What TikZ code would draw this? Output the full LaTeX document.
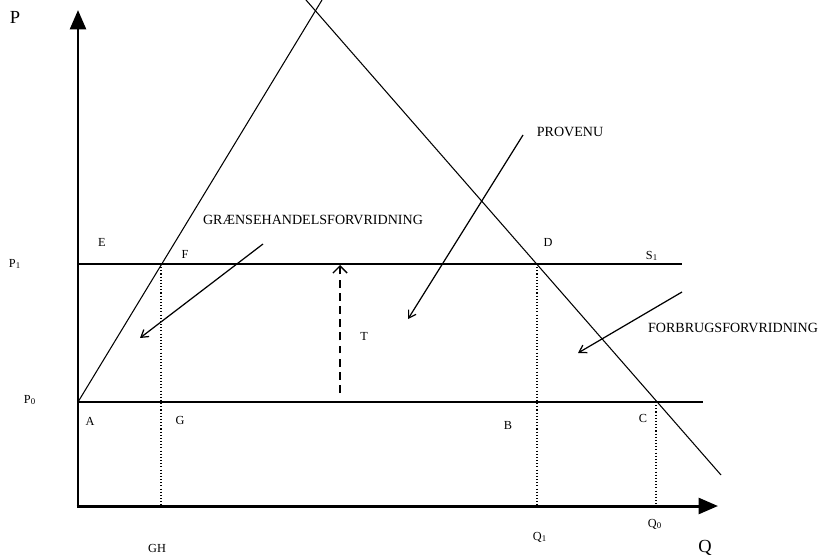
\documentclass[tikz,border=0pt]{standalone}
\usepackage{fontspec}
\setmainfont{Liberation Serif}
\usetikzlibrary{arrows.meta}
\begin{document}
\begin{tikzpicture}[x=0.02cm,y=-0.02cm,
 axis/.style={line width=1.7pt,-{Triangle[length=11pt,width=9pt]}},
 level/.style={line width=0.8pt},
 curve/.style={line width=0.6pt},
 guide/.style={line width=0.6pt,dash pattern=on 0.6pt off 1.2pt},
 pointer/.style={line width=0.7pt,-{Straight Barb[length=4pt,width=5pt]}},
 taxarrow/.style={line width=0.8pt,dash pattern=on 4.5pt off 3pt,-{Straight Barb[length=4pt,width=8pt]}},
 lbl/.style={inner sep=0pt,font=\fontsize{7}{8}\selectfont},
 big/.style={inner sep=0pt,font=\fontsize{8}{9}\selectfont},
 axlbl/.style={inner sep=0pt,font=\fontsize{10.5}{12}\selectfont}]
\useasboundingbox (0,0) rectangle (820,557);
% coordinates
\coordinate (O) at (78,506);
\coordinate (Ytop) at (78,10);
\coordinate (Xend) at (718,506);
\coordinate (A) at (78,402);
\coordinate (Stop) at (322,0);
\coordinate (Dtop) at (306,0);
\coordinate (Dend) at (721,475);
\coordinate (P1l) at (78,264);
\coordinate (P1r) at (682,264);
\coordinate (P0r) at (703,402);
\coordinate (F) at (161,264);
\coordinate (D) at (537,264);
\coordinate (C) at (656,402);
\coordinate (Fb) at (161,506);
\coordinate (Db) at (537,506);
\coordinate (Cb) at (656,506);
\coordinate (Tb) at (340,393);
\coordinate (Tt) at (340,265);
\coordinate (g1) at (263,244);
\coordinate (g2) at (140,338);
\coordinate (p1) at (523,135);
\coordinate (p2) at (408,319);
\coordinate (f1) at (682,292);
\coordinate (f2) at (578,353);
% curves and levels
\draw[curve] (A) -- (Stop);
\draw[curve] (Dtop) -- (Dend);
\draw[level] (P1l) -- (P1r);
\draw[level] (A) -- (P0r);
\draw[guide] (F) -- (Fb);
\draw[guide] (D) -- (Db);
\draw[guide] (C) -- (Cb);
% axes
\draw[axis] (O) -- (Ytop);
\draw[axis] ([xshift=-0.85pt]O) -- (Xend);
% arrows
\draw[taxarrow] (Tb) -- (Tt);
\draw[pointer] (g1) -- (g2);
\draw[pointer] (p1) -- (p2);
\draw[pointer] (f1) -- (f2);
% labels
\node[axlbl] (lP) at (15,17) {P};
\node[axlbl] (lQ) at (705,548) {Q};
\node[lbl] (lP1) at (15,264) {P\textsubscript{1}};
\node[lbl] (lP0) at (30,400) {P\textsubscript{0}};
\node[lbl] (lE) at (102,242) {E};
\node[lbl] (lF) at (185,254) {F};
\node[lbl] (lD) at (548,242) {D};
\node[lbl] (lS1) at (652,256) {S\textsubscript{1}};
\node[lbl] (lA) at (90,421) {A};
\node[lbl] (lG) at (180,420) {G};
\node[lbl] (lB) at (508,425) {B};
\node[lbl] (lC) at (643,418) {C};
\node[lbl] (lT) at (364,336) {T};
\node[lbl] (lGH) at (157,548) {GH};
\node[lbl] (lQ1) at (540,537) {Q\textsubscript{1}};
\node[lbl] (lQ0) at (655,524) {Q\textsubscript{0}};
\node[big] (tG) at (313,220) {GRÆNSEHANDELSFORVRIDNING};
\node[big] (tP) at (570,132) {PROVENU};
\node[big] (tF) at (733,328) {FORBRUGSFORVRIDNING};
\end{tikzpicture}
\end{document}
